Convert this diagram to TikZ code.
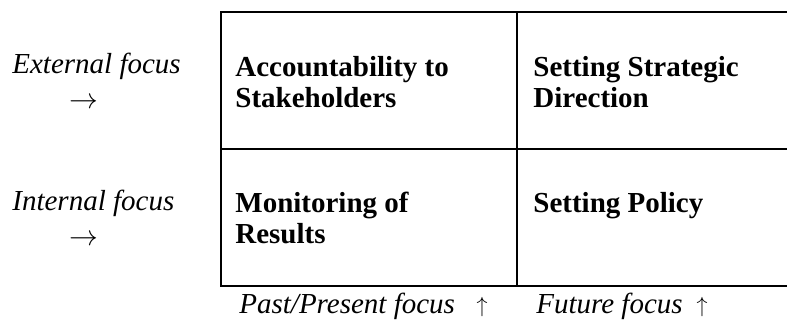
\documentclass[tikz,border=0pt]{standalone}
\usepackage{fontspec}
\setmainfont{Liberation Serif}
\usetikzlibrary{positioning}

\begin{document}
\begin{tikzpicture}[x=0.5pt, y=-0.5pt,
      every node/.style={font=\fontsize{14.5}{15.5}\selectfont, inner sep=0pt},
      cell/.style={anchor=base west, align=left, font=\fontsize{14.5}{15.5}\selectfont\bfseries},
      side/.style={anchor=base west, font=\fontsize{14.5}{15.5}\selectfont\itshape},
      uparr/.style={anchor=base, font=\fontsize{10.5}{12}\selectfont},
      frame/.style={line width=1pt}]
    \useasboundingbox (0,0) rectangle (787,323);
    % the four quadrants, open on the right
    \draw[frame] (787,12) -- (221,12) -- (221,285.5) -- (787,285.5);
    \draw[frame] (221,148.5) -- (787,148.5);
    \draw[frame] (517,12) -- (517,285.5);
    % quadrant texts (base = last line)
    \node[cell] (acc) at (235,107) {Accountability to\\Stakeholders};
    \node[cell] (dir) at (533,107) {Setting Strategic\\Direction};
    \node[cell] (mon) at (235,243) {Monitoring of\\Results};
    \node[cell] (pol) at (533,212) {Setting Policy};
    % row labels
    \node[side] (ext) at (12,73) {External focus};
    \node (extarr) at (84,103) {$\rightarrow$};
    \node[side] (int) at (12,210) {Internal focus};
    \node (intarr) at (84,240) {$\rightarrow$};
    % column labels
    \node[side] (past) at (239,313) {Past/Present focus};
    \node[uparr] (pastarr) at (482,312) {$\uparrow$};
    \node[side] (fut) at (536,313) {Future focus};
    \node[uparr] (futarr) at (702,312) {$\uparrow$};
\end{tikzpicture}
\end{document}
